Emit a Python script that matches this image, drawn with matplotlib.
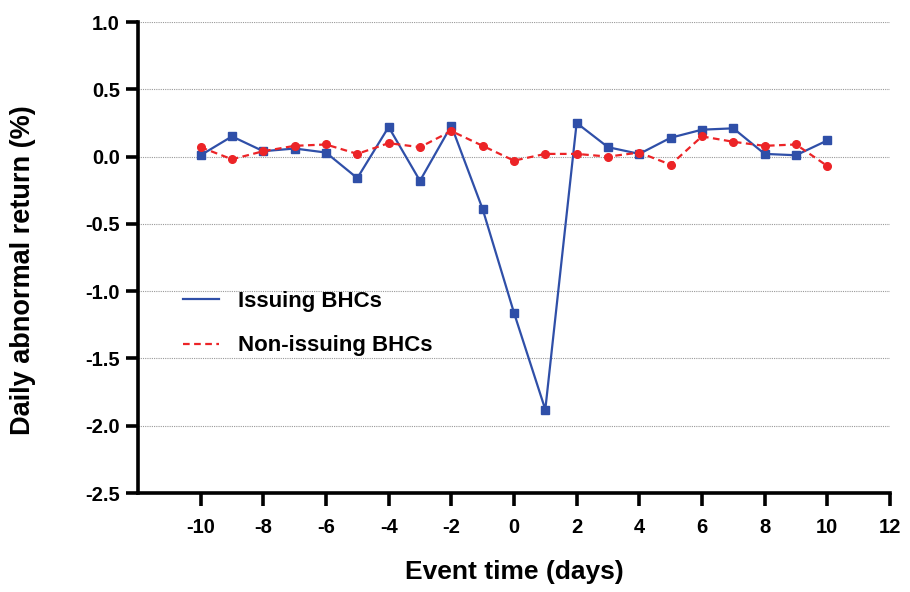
import matplotlib.pyplot as plt
from matplotlib.lines import Line2D

plt.rcParams['font.family'] = ['Liberation Sans', 'DejaVu Sans']
plt.rcParams['font.weight'] = 'bold'
plt.rcParams['axes.unicode_minus'] = False

days = list(range(-10, 11))
issuing = [0.01, 0.15, 0.04, 0.06, 0.03, -0.16, 0.22, -0.18, 0.23, -0.39, -1.16,
           -1.88, 0.25, 0.07, 0.02, 0.14, 0.20, 0.21, 0.02, 0.01, 0.12]
non_issuing = [0.07, -0.02, 0.04, 0.08, 0.09, 0.02, 0.10, 0.07, 0.19, 0.08, -0.03,
               0.02, 0.02, 0.00, 0.03, -0.06, 0.15, 0.11, 0.08, 0.09, -0.07]
x_ticks = [-10, -8, -6, -4, -2, 0, 2, 4, 6, 8, 10, 12]
y_ticks = [1.0, 0.5, 0.0, -0.5, -1.0, -1.5, -2.0, -2.5]

blue = "#2F4FA8"
red = "#EC2427"

fig = plt.figure(figsize=(9.1, 5.92), dpi=100)
ax = fig.add_axes([0.1516, 0.1672, 0.8264, 0.7956])

ax.plot(days, issuing, color=blue, lw=1.6, marker='s', ms=5.5, zorder=3)
ax.plot(days, non_issuing, color=red, lw=1.6, ls=(0, (3, 2)), marker='o', ms=5.5, zorder=3)

ax.set_xlim(-12, 12)
ax.set_ylim(-2.5, 1.0)
ax.set_xticks(x_ticks)
ax.set_yticks(y_ticks)
ax.set_yticklabels([f"{v:.1f}" for v in y_ticks])
ax.grid(axis='y', linestyle=(0, (1, 1)), color='#999999', lw=0.8)
ax.set_axisbelow(True)

for s in ['top', 'right']:
    ax.spines[s].set_visible(False)
for s in ['left', 'bottom']:
    ax.spines[s].set_linewidth(2.6)
ax.tick_params(axis='both', direction='out', length=9, width=2.6, labelsize=14.5, pad=4)
ax.tick_params(axis='x', pad=9)

ax.set_xlabel("Event time (days)", fontsize=19, fontweight='bold')
ax.set_ylabel("Daily abnormal return (%)", fontsize=19.5, fontweight='bold')
ax.xaxis.set_label_coords(0.5, -0.142)
ax.yaxis.set_label_coords(-0.136, 0.473)

handles = [Line2D([], [], color=blue, lw=1.6),
           Line2D([], [], color=red, lw=1.6, ls=(0, (3, 2)))]
ax.legend(handles, ["Issuing BHCs", "Non-issuing BHCs"], loc='upper left',
          bbox_to_anchor=(0.06, 0.429), frameon=False, fontsize=16,
          borderaxespad=0, borderpad=0,
          handlelength=1.6, handletextpad=0.85, labelspacing=1.05)

fig.savefig("out.png", dpi=100)
